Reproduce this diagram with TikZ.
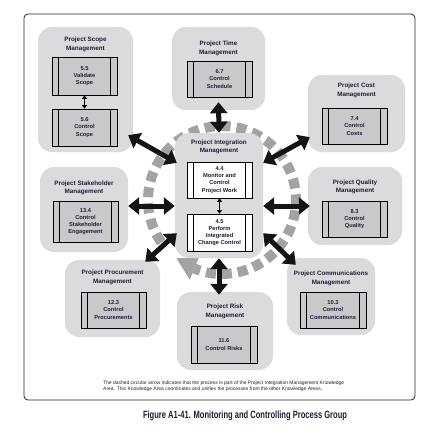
\documentclass[tikz,border=0pt]{standalone}
\usepackage{fontspec}
\setmainfont{Liberation Sans}
\usetikzlibrary{arrows.meta,calc}
\definecolor{cont}{RGB}{219,219,221}
\definecolor{procfill}{RGB}{201,201,203}
\definecolor{ringgray}{RGB}{163,163,163}
\definecolor{txt}{RGB}{28,30,52}
\begin{document}
\begin{tikzpicture}[x=1pt,y=-1pt,
  ka/.style={fill=cont, rounded corners=14pt, inner sep=0pt},
  katitle/.style={font=\fontsize{6.3}{8.5}\selectfont\bfseries, text=txt, align=center, inner sep=0pt},
  procbox/.style={draw=black, line width=0.7pt, fill=procfill, inner sep=0pt, minimum width=65pt,
    font=\fontsize{5.7}{7.2}\selectfont\bfseries, text=txt, align=center,
    path picture={\draw[line width=0.7pt]
      ([xshift=6.5pt]path picture bounding box.north west) -- ([xshift=6.5pt]path picture bounding box.south west)
      ([xshift=-6.5pt]path picture bounding box.north east) -- ([xshift=-6.5pt]path picture bounding box.south east);}},
  whitebox/.style={procbox, fill=white},
  bigarrow/.style={line width=5pt, black!92, {Triangle[width=17pt,length=11pt]}-{Triangle[width=17pt,length=11pt]}},
  smallarrow/.style={line width=1.1pt, black, {Triangle[width=5pt,length=3.5pt]}-{Triangle[width=5pt,length=3.5pt]}},
  ring/.style={ringgray, line width=10pt, dash pattern=on 10pt off 6pt},
  framebox/.style={draw=black!85, line width=0.8pt, rounded corners=4pt, inner sep=0pt}
]
\useasboundingbox[fill=white] (0,0) rectangle (429,433);

% frame
\node[framebox, minimum width=391pt, minimum height=386pt] (frame) at (219.5,207) {};

% dashed circular arrow
\coordinate (ringc) at (222,200);
\draw[ring] plot[domain=-215:112, samples=120, smooth] ({222+74*cos(\x)},{200+74*sin(\x)});
\fill[ringgray] ($(ringc)+(128:74)$) -- ($(ringc)+(112:86)$) -- ($(ringc)+(112:62)$) -- cycle;

% knowledge area containers
\node[ka, minimum width=95pt, minimum height=125pt] (scope) at (85.5,89.5) {};
\node[ka, minimum width=93pt, minimum height=83pt] (time) at (218.5,68.5) {};
\node[ka, minimum width=97pt, minimum height=77pt] (cost) at (356.5,113.5) {};
\node[ka, minimum width=88pt, minimum height=125pt] (integ) at (219,195.5) {};
\node[ka, minimum width=88pt, minimum height=85pt] (stake) at (84,209.5) {};
\node[ka, minimum width=94pt, minimum height=78pt] (quality) at (355,206) {};
\node[ka, minimum width=95pt, minimum height=77pt] (proc) at (112.5,298.5) {};
\node[ka, minimum width=96pt, minimum height=78pt] (risk) at (225,331) {};
\node[ka, minimum width=88pt, minimum height=77pt] (comms) at (331,296.5) {};

% titles
\node[katitle] (scopeT) at (85.5,44.5) {Project Scope\\Management};
\node[katitle] (timeT) at (218.5,48.5) {Project Time\\Management};
\node[katitle] (costT) at (356.5,90.5) {Project Cost\\Management};
\node[katitle] (integT) at (219,147) {Project Integration\\Management};
\node[katitle] (stakeT) at (84,188) {Project Stakeholder\\Management};
\node[katitle] (qualityT) at (355,187) {Project Quality\\Management};
\node[katitle] (procT) at (112.5,277.5) {Project Procurement\\Management};
\node[katitle] (riskT) at (225,311.5) {Project Risk\\Management};
\node[katitle] (commsT) at (331,278.5) {Project Communications\\Management};

% processes
\node[procbox, minimum height=38pt] (p55) at (84.5,76) {5.5\\Validate\\Scope};
\node[procbox, minimum height=37pt] (p56) at (84.5,127.5) {5.6\\Control\\Scope};
\node[procbox, minimum height=36pt] (p67) at (219.5,79) {6.7\\Control\\Schedule};
\node[procbox, minimum height=36pt] (p74) at (354.5,126) {7.4\\Control\\Costs};
\node[whitebox, minimum height=36pt] (p44) at (219.5,180) {4.4\\Monitor and\\Control\\Project Work};
\node[whitebox, minimum height=37pt] (p45) at (219.5,232.5) {4.5\\Perform\\Integrated\\Change Control};
\node[procbox, minimum height=41pt] (p134) at (85.5,221.5) {13.4\\Control\\Stakeholder\\Engagement};
\node[procbox, minimum height=36pt] (p83) at (354.5,219) {8.3\\Control\\Quality};
\node[procbox, minimum height=36pt] (p123) at (113.5,310) {12.3\\Control\\Procurements};
\node[procbox, minimum height=37pt, minimum width=66pt] (p116) at (224,344.5) {11.6\\Control Risks};
\node[procbox, minimum height=36pt, minimum width=66pt] (p103) at (333,310) {10.3\\Control\\Communications};

% small arrows
\draw[smallarrow] (p55.south) -- (p56.north);
\draw[smallarrow] (p44.south) -- (p45.north);

% big arrows
\draw[bigarrow] ([yshift=8pt]time.south) -- (integ.north);
\draw[bigarrow] ([xshift=-5pt,yshift=17pt]scope.south east) -- ([xshift=2pt,yshift=-30pt]integ.north west);
\draw[bigarrow] ([yshift=-30pt]integ.north east) -- ([xshift=2pt,yshift=15pt]cost.south west);
\draw[bigarrow] ([yshift=3.5pt]stake.east) -- ([yshift=-10.5pt]integ.west);
\draw[bigarrow] ([yshift=-10.5pt]integ.east) -- ([xshift=2pt]quality.west);
\draw[bigarrow] ([xshift=2pt,yshift=25pt]integ.south west) -- ([xshift=-15pt,yshift=-2pt]proc.north east);
\draw[bigarrow] ([yshift=25pt]integ.south east) -- ([xshift=9pt,yshift=-7pt]comms.north west);
\draw[bigarrow] (integ.south) -- ([yshift=-3pt]integ.south |- risk.north);

% note and caption
\node[font=\fontsize{4.95}{6}\selectfont, text=txt, align=left, anchor=west, inner sep=0pt] (note) at (103,386)
  {The dashed circular arrow indicates that the process is part of the Project Integration Management Knowledge\\
   Area. This Knowledge Area coordinates and unifies the processes from the other Knowledge Areas.};
\node[text=txt, inner sep=0pt] (caption) at (245,416)
  {\resizebox{204pt}{\height}{\fontsize{10.5}{12}\selectfont\bfseries Figure A1-41. Monitoring and Controlling Process Group}};
\end{tikzpicture}
\end{document}
